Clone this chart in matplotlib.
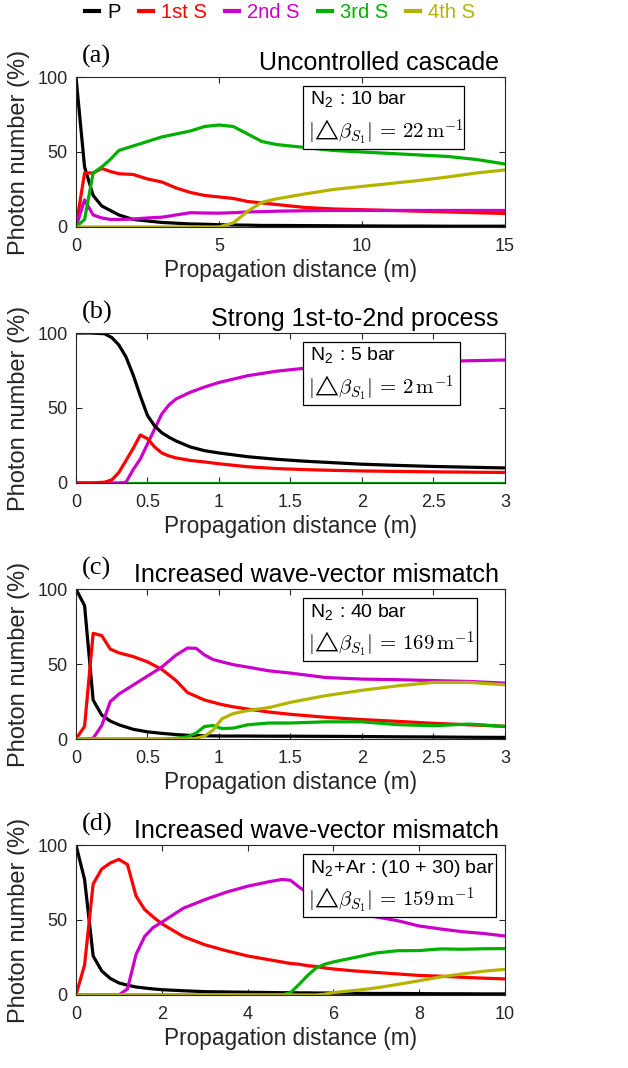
import matplotlib
matplotlib.use("Agg")
import matplotlib.pyplot as plt
from matplotlib.patches import Rectangle

plt.rcParams['font.family'] = ['Liberation Sans', 'DejaVu Sans']
plt.rcParams['mathtext.fontset'] = 'cm'

names = ["P", "1st S", "2nd S", "3rd S", "4th S"]
colors = ["#000000", "#FF0000", "#CC00CC", "#00B000", "#B4B400"]

# (a) uncontrolled cascade
xa = [0, 0.3, 0.6, 0.9, 1.2, 1.5, 2, 2.5, 3, 3.5, 4, 4.5, 5, 5.5, 6, 6.5, 7, 8, 9, 10, 11, 12, 13, 14, 15]
Pa = [100, 40, 21, 14, 11, 8, 5, 4, 3, 2.5, 2, 1.8, 1.5, 1.3, 1.2, 1, 1, 0.9, 0.8, 0.7, 0.6, 0.6, 0.5, 0.5, 0.5]
S1a = [0, 36, 36, 39, 37, 35.5, 35, 32, 30, 26, 23, 21, 20, 19, 17, 16, 15, 13, 12, 11.5, 11, 10.5, 10, 9.5, 9]
S2a = [0, 18, 8, 6, 5, 5, 5.3, 6, 6.5, 8, 9.5, 9.3, 9.2, 9.5, 10, 10.2, 10.5, 10.8, 11, 11, 11, 11, 11, 11, 11]
S3a = [0, 5, 36, 40, 45, 51, 54, 57, 60, 62, 64, 67, 68, 67, 62, 57, 55, 53, 51, 50, 49, 48, 47, 45, 42]
S4a = [0, 0, 0, 0, 0, 0, 0, 0, 0, 0, 0, 0, 0, 2.7, 10.4, 16.4, 18.7, 22, 25, 27, 29, 31, 33.3, 36, 38]

# (b) strong 1st-to-2nd process
xb = [0, 0.1, 0.2, 0.25, 0.3, 0.35, 0.4, 0.45, 0.5, 0.55, 0.6, 0.65, 0.7, 0.8, 0.9, 1.0, 1.2, 1.4, 1.6, 1.8, 2.0, 2.25, 2.5, 2.75, 3.0]
Pb = [100, 100, 99.5, 97, 92, 84, 72, 58, 45, 38, 33.5, 30.5, 28, 24, 21.5, 20, 17.5, 15.8, 14.5, 13.5, 12.5, 11.7, 11, 10.5, 10]
S1b = [0, 0, 0.5, 2, 7, 15, 23, 32, 29.5, 24, 20, 18, 16.7, 15, 14, 12.8, 10.8, 9.6, 8.9, 8.4, 8, 7.7, 7.4, 7.2, 7]
S2b = [0, 0, 0, 0, 0, 0.5, 8.9, 16, 26, 36, 46, 52, 56, 60.5, 64, 67, 71.5, 74.5, 76.5, 78, 79, 80, 81, 81.5, 82]
S3b = [0] * 25
S4b = [0] * 25

# (c) increased wave-vector mismatch, N2 40 bar
xc = [0, 0.06, 0.12, 0.18, 0.24, 0.3, 0.4, 0.5, 0.6, 0.7, 0.78, 0.84, 0.9, 0.96, 1.02, 1.1, 1.2, 1.35, 1.5, 1.75, 2.0, 2.25, 2.5, 2.75, 3.0]
Pc = [100, 89, 26, 16, 12, 9.5, 6.5, 4.8, 3.8, 3, 2.5, 2.3, 2.2, 2.1, 2, 2, 2, 1.9, 1.9, 1.8, 1.7, 1.5, 1.4, 1.2, 1.1]
S1c = [0, 8.5, 70.5, 69, 60, 57.5, 55, 51.5, 46.5, 39, 31, 28.5, 26, 24.5, 23, 21.5, 20, 18, 16.5, 14.5, 13, 11.8, 10.5, 9.5, 8.5]
S2c = [0, 0, 0.5, 9, 25, 30, 36, 42, 48, 56, 60.7, 60.5, 56, 53, 51.5, 49.6, 48, 45.5, 44, 41, 40, 39.6, 39, 38.4, 37.3]
S3c = [0, 0, 0, 0, 0, 0, 0, 0, 0, 0.5, 1.5, 4, 8.4, 9, 7, 7.3, 9.5, 10.7, 10.7, 11.5, 11.5, 9.6, 8.9, 10, 8.4]
S4c = [0, 0, 0, 0, 0, 0, 0, 0, 0, 0, 0, 0.5, 2, 6, 13.5, 17, 19, 21, 24.5, 29, 32.5, 35.5, 37.8, 37.8, 36.2]

# (d) increased wave-vector mismatch, N2+Ar
xd = [0, 0.2, 0.4, 0.6, 0.8, 1.0, 1.2, 1.4, 1.6, 1.8, 2.0, 2.5, 3, 3.5, 4, 4.5, 4.8, 5.0, 5.2, 5.4, 5.6, 5.8, 6.0, 6.5, 7, 7.5, 8, 8.5, 9, 9.5, 10]
Pd = [100, 77, 26, 16, 11, 8, 6.5, 5.3, 4.6, 4, 3.5, 2.8, 2.2, 2, 1.8, 1.6, 1.5, 1.5, 1.4, 1.4, 1.3, 1.3, 1.2, 1.1, 1, 1, 0.9, 0.8, 0.8, 0.7, 0.7]
S1d = [0, 20, 74, 84, 88, 90.4, 87, 66, 57, 52, 47.5, 39, 33.5, 29.5, 26, 23.5, 22, 21, 20.5, 19.5, 19, 18, 17.3, 16, 15, 14, 13, 12.5, 11.8, 11.2, 10.7]
S2d = [0, 0, 0, 0, 0, 0, 4, 27, 39, 45, 48.5, 57.8, 63.5, 68.5, 72.5, 75.5, 77, 76.5, 72, 68, 64, 61, 59, 55.5, 52, 49.5, 46, 44, 42.2, 41, 39.3]
S3d = [0, 0, 0, 0, 0, 0, 0, 0, 0, 0, 0, 0, 0, 0, 0, 0, 0, 1.5, 7, 13, 18, 20.5, 22, 25, 28, 29.5, 29.6, 30.7, 30.5, 30.8, 30.9]
S4d = [0, 0, 0, 0, 0, 0, 0, 0, 0, 0, 0, 0, 0, 0, 0, 0, 0, 0, 0, 0, 0, 0.5, 1.6, 3, 4.7, 7, 9.5, 12, 14, 15.8, 17.1]

def mism(v):
    return r"$|\!{\triangle}\!\beta_{S_1}|\,=\," + v + r"\,\mathrm{m}^{-1}$"

panels = [
    ("(a)", "Uncontrolled cascade", xa, [Pa, S1a, S2a, S3a, S4a], 15, [0, 5, 10, 15],
     r"N$_{\mathregular{2}}$ : 10 bar", mism("22"), 0.904),
    ("(b)", "Strong 1st-to-2nd process", xb, [Pb, S1b, S2b, S3b, S4b], 3, [0, 0.5, 1, 1.5, 2, 2.5, 3],
     r"N$_{\mathregular{2}}$ : 5 bar", mism("2"), 0.895),
    ("(c)", "Increased wave-vector mismatch", xc, [Pc, S1c, S2c, S3c, S4c], 3, [0, 0.5, 1, 1.5, 2, 2.5, 3],
     r"N$_{\mathregular{2}}$ : 40 bar", mism("169"), 0.935),
    ("(d)", "Increased wave-vector mismatch", xd, [Pd, S1d, S2d, S3d, S4d], 10, [0, 2, 4, 6, 8, 10],
     r"N$_{\mathregular{2}}$+Ar : (10 + 30) bar", mism("159"), 0.979),
]

fig = plt.figure(figsize=(6.28, 10.68), dpi=100)
bottoms = [0.7875, 0.5478, 0.308, 0.0684]
dark = "#262626"

for (lab, title, x, ys, xmax, xt, box1, box2, boxr), b in zip(panels, bottoms):
    ax = fig.add_axes([0.121, b, 0.683, 0.1404])
    # olive first so it sits under the others like the reference
    order = [4, 3, 2, 1, 0] if lab == "(b)" else [0, 1, 2, 3, 4]
    for i in order:
        ax.plot(x, ys[i], color=colors[i], lw=2.3, label=names[i])
    ax.set_xlim(0, xmax)
    ax.set_ylim(0, 100)
    ax.set_xticks(xt)
    ax.set_xticklabels([f"{v:g}" for v in xt])
    ax.set_yticks([0, 50, 100])
    ax.tick_params(direction="in", top=True, right=True, length=4, width=0.8,
                   labelsize=13, colors=dark, labelcolor=dark)
    ax.tick_params(axis="x", pad=8)
    ax.tick_params(axis="y", pad=6)
    for s in ax.spines.values():
        s.set_color(dark)
        s.set_linewidth(0.8)
    ax.set_xlabel("Propagation distance (m)", fontsize=16.3, color=dark, labelpad=3)
    ax.set_ylabel("Photon number (%)", fontsize=17, color=dark, labelpad=5)
    ax.text(0.986, 1.045, title, transform=ax.transAxes, ha="right", va="baseline",
            fontsize=18, color="black")
    ax.text(0.014, 1.14, lab, transform=ax.transAxes, ha="left", va="center",
            fontsize=19, family=['Liberation Serif', 'DejaVu Serif'])
    ax.add_patch(Rectangle((0.53, 0.52), boxr - 0.53, 0.42, transform=ax.transAxes,
                           fill=True, facecolor="white", edgecolor="black", lw=0.9, zorder=5))
    ax.text(0.545, 0.845, box1, transform=ax.transAxes, ha="left", va="center",
            fontsize=14, zorder=6)
    ax.text(0.541, 0.635, box2, transform=ax.transAxes, ha="left", va="center",
            fontsize=15, zorder=6)

handles = [plt.Line2D([], [], color=c, lw=3) for c in colors]
fig.legend(handles, names, loc="center", bbox_to_anchor=(0.446, 0.988), ncol=5,
           frameon=False, fontsize=14.5, handlelength=0.7, handletextpad=0.4,
           columnspacing=0.9, labelcolor=colors)

fig.savefig("out.png", dpi=100)
